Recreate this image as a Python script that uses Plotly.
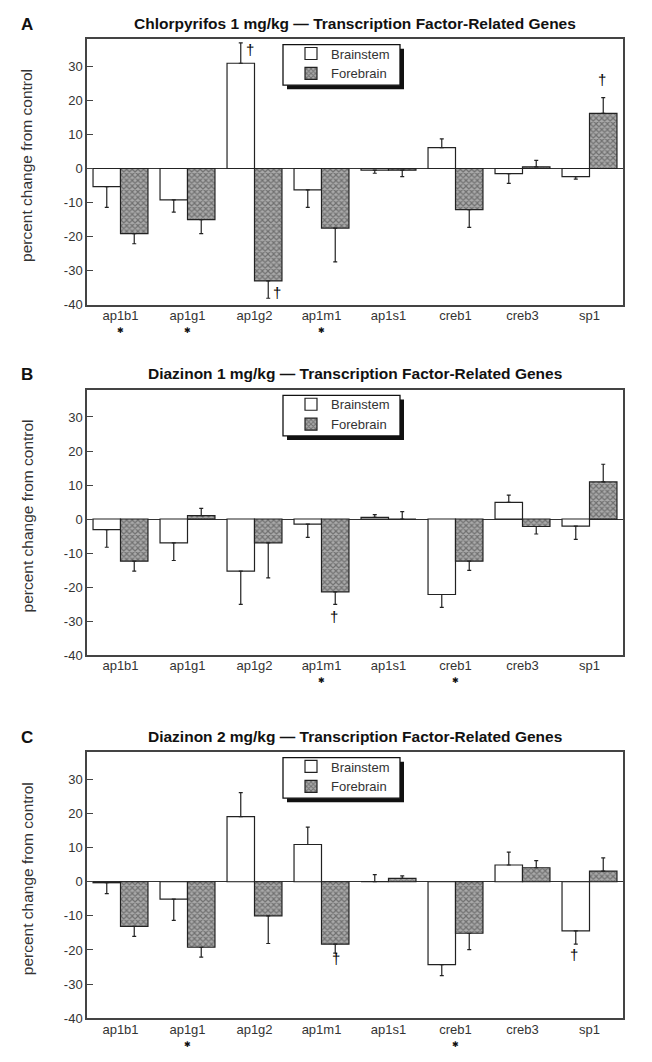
import plotly.graph_objects as go

genes = ["ap1b1", "ap1g1", "ap1g2", "ap1m1", "ap1s1", "creb1", "creb3", "sp1"]

titles = [
    "Chlorpyrifos 1 mg/kg \u2014 Transcription Factor-Related Genes",
    "Diazinon 1 mg/kg \u2014 Transcription Factor-Related Genes",
    "Diazinon 2 mg/kg \u2014 Transcription Factor-Related Genes",
]
letters = ["A", "B", "C"]

# Panel A: Chlorpyrifos 1 mg/kg
a_brainstem = [-5.3, -9.2, 30.9, -6.3, -0.5, 6.1, -1.5, -2.4]
a_brainstem_se = [6.1, 3.6, 6.0, 5.1, 0.9, 2.6, 2.9, 0.7]
a_forebrain = [-19.1, -15.0, -33.0, -17.5, -0.5, -12.1, 0.5, 16.2]
a_forebrain_se = [3.0, 4.1, 5.1, 9.9, 1.9, 5.2, 1.9, 4.6]

# Panel B: Diazinon 1 mg/kg
b_brainstem = [-3.1, -7.0, -15.3, -1.5, 0.5, -22.2, 4.9, -2.1]
b_brainstem_se = [5.2, 5.2, 9.8, 3.9, 0.8, 3.8, 2.1, 3.9]
b_forebrain = [-12.4, 1.0, -7.0, -21.4, 0.0, -12.4, -2.2, 10.9]
b_forebrain_se = [2.9, 2.1, 10.3, 3.7, 2.2, 2.7, 2.2, 5.2]

# Panel C: Diazinon 2 mg/kg
c_brainstem = [-0.3, -5.1, 19.1, 10.9, 0.0, -24.3, 4.9, -14.4]
c_brainstem_se = [3.2, 6.2, 7.0, 5.1, 2.1, 3.2, 3.8, 3.9]
c_forebrain = [-13.1, -19.2, -10.0, -18.3, 1.0, -15.1, 4.1, 3.1]
c_forebrain_se = [2.9, 2.9, 8.1, 2.6, 0.7, 4.8, 2.1, 3.9]

# significance marks: asterisks under gene labels
a_stars = ["ap1b1", "ap1g1", "ap1m1"]
b_stars = ["ap1m1", "creb1"]
c_stars = ["ap1g1", "creb1"]

# daggers: (x position on category scale, value)
a_daggers = [(1.93, 35.0), (2.33, -36.3), (7.18, 26.0)]
b_daggers = [(3.19, -28.8)]
c_daggers = [(3.22, -22.6), (6.77, -21.2)]

yticks = [-40, -30, -20, -10, 0, 10, 20, 30]
yticktext = [str(v) for v in yticks]

panels = [
    (a_brainstem, a_brainstem_se, a_forebrain, a_forebrain_se, a_stars, a_daggers),
    (b_brainstem, b_brainstem_se, b_forebrain, b_forebrain_se, b_stars, b_daggers),
    (c_brainstem, c_brainstem_se, c_forebrain, c_forebrain_se, c_stars, c_daggers),
]

# window is 652x1062, page body adds an 8 px margin
OFF = 8
WIN_W, WIN_H = 652, 1062
W, H = WIN_W - OFF, WIN_H - OFF
FRAME_L, FRAME_R = 87, 623          # window pixels
ML = FRAME_L - OFF
MR = WIN_W - FRAME_R
PW = W - ML - MR
# window pixel frames (top, bottom) for each panel
frames = [(39.3, 307.0), (392.7, 660.0), (757.7, 1026.0)]

FONT = "Liberation Sans, Arial, Helvetica, sans-serif"


def px_x(p):
    return (p - FRAME_L) / PW


def px_y(p):
    return 1 - (p - OFF) / H


def split_err(vals, se):
    plus = [e if v >= 0 else 0 for v, e in zip(vals, se)]
    minus = [e if v < 0 else 0 for v, e in zip(vals, se)]
    return plus, minus


fig = go.Figure()
annotations = []
shapes = []
layout_axes = {}

for i, (bs, bse, fb, fse, stars, daggers) in enumerate(panels):
    n = i + 1
    xa = "x" if n == 1 else f"x{n}"
    ya = "y" if n == 1 else f"y{n}"
    lg = "legend" if n == 1 else f"legend{n}"
    bp, bm = split_err(bs, bse)
    fp, fm = split_err(fb, fse)
    err_style = dict(type="data", symmetric=False, color="#222", thickness=1.2, width=2)
    fig.add_trace(go.Bar(
        x=genes, y=bs, name="Brainstem", xaxis=xa, yaxis=ya, legend=lg,
        marker=dict(color="white", line=dict(color="#222", width=1.2)),
        error_y=dict(array=bp, arrayminus=bm, **err_style),
    ))
    fig.add_trace(go.Bar(
        x=genes, y=fb, name="Forebrain", xaxis=xa, yaxis=ya, legend=lg,
        marker=dict(color="#999", line=dict(color="#222", width=1.2),
                    pattern=dict(shape="x", size=4, solidity=0.5,
                                 fgcolor="#353535", bgcolor="#aaaaaa")),
        error_y=dict(array=fp, arrayminus=fm, **err_style),
    ))

    top, bot = frames[i]
    dom = [px_y(bot), px_y(top)]
    axkey = "xaxis" if n == 1 else f"xaxis{n}"
    aykey = "yaxis" if n == 1 else f"yaxis{n}"
    layout_axes[axkey] = dict(
        domain=[0, 1], anchor=ya, type="category", range=[-0.5, 7.5],
        showline=True, mirror=True, linecolor="#444", linewidth=1.5,
        ticks="", showgrid=False, zeroline=False, ticklabelstandoff=-2,
        tickfont=dict(family=FONT, size=13, color="#333"),
    )
    layout_axes[aykey] = dict(
        domain=dom, anchor=xa, range=[-40, 38], tickvals=yticks, ticktext=yticktext,
        showline=True, mirror=True, linecolor="#444", linewidth=1.5,
        ticks="inside", ticklen=6, tickcolor="#444", tickwidth=1.2,
        showgrid=False, zeroline=True, zerolinecolor="#333", zerolinewidth=1.2,
        tickfont=dict(family=FONT, size=13, color="#333"),
    )
    # legend (box drawn with shapes)
    layout_axes[lg] = dict(
        x=px_x(291), y=px_y(top - 0.5), xanchor="left", yanchor="top",
        xref="paper", yref="paper",
        bgcolor="rgba(0,0,0,0)", borderwidth=0,
        font=dict(family=FONT, size=13, color="#333"),
        itemwidth=30, tracegroupgap=0,
    )
    bx0, bx1, by0, by1 = 283, 400, top + 5.7, top + 46.5
    shapes.append(dict(
        type="rect", xref="paper", yref="paper",
        x0=px_x(bx0 + 4), x1=px_x(bx1 + 4), y0=px_y(by1 + 4), y1=px_y(by0 + 4),
        fillcolor="#111", line=dict(width=0), layer="above",
    ))
    shapes.append(dict(
        type="rect", xref="paper", yref="paper",
        x0=px_x(bx0), x1=px_x(bx1), y0=px_y(by1), y1=px_y(by0),
        fillcolor="white", line=dict(width=1.3, color="#111"), layer="above",
    ))
    # title
    annotations.append(dict(
        text=f"<b>{titles[i]}</b>", xref="paper", yref="paper",
        x=0.5, y=px_y(top - 16), xanchor="center", yanchor="middle",
        showarrow=False, font=dict(family=FONT, size=15.5, color="#111"),
    ))
    # panel letter
    annotations.append(dict(
        text=f"<b>{letters[i]}</b>", xref="paper", yref="paper",
        x=px_x(19), y=px_y(top - 15), xanchor="left", yanchor="middle",
        showarrow=False, font=dict(family=FONT, size=17, color="#111"),
    ))
    # y axis title
    annotations.append(dict(
        text="percent change from control", xref="paper", yref="paper",
        x=px_x(27), y=px_y((top + bot) / 2 - 6), xanchor="center", yanchor="middle",
        textangle=-90, showarrow=False, font=dict(family=FONT, size=15.5, color="#333"),
    ))
    # asterisks
    for g in stars:
        annotations.append(dict(
            text="\u2731", xref=xa, yref="paper", x=g, y=px_y(bot + 26),
            xanchor="center", yanchor="middle", showarrow=False,
            font=dict(family="DejaVu Sans", size=8, color="#111"),
        ))
    # daggers
    for (xp, yv) in daggers:
        annotations.append(dict(
            text="\u2020", xref=xa, yref=ya, x=xp, y=yv,
            xanchor="center", yanchor="middle", showarrow=False,
            font=dict(family=FONT, size=15, color="black"),
        ))

fig.update_layout(
    width=W, height=H,
    margin=dict(l=ML, r=MR, t=0, b=0),
    paper_bgcolor="white", plot_bgcolor="white",
    barmode="group", bargap=0.18, bargroupgap=0,
    annotations=annotations, shapes=shapes,
    font=dict(family=FONT, color="#333"),
    **layout_axes,
)

fig.write_html("out.html")
